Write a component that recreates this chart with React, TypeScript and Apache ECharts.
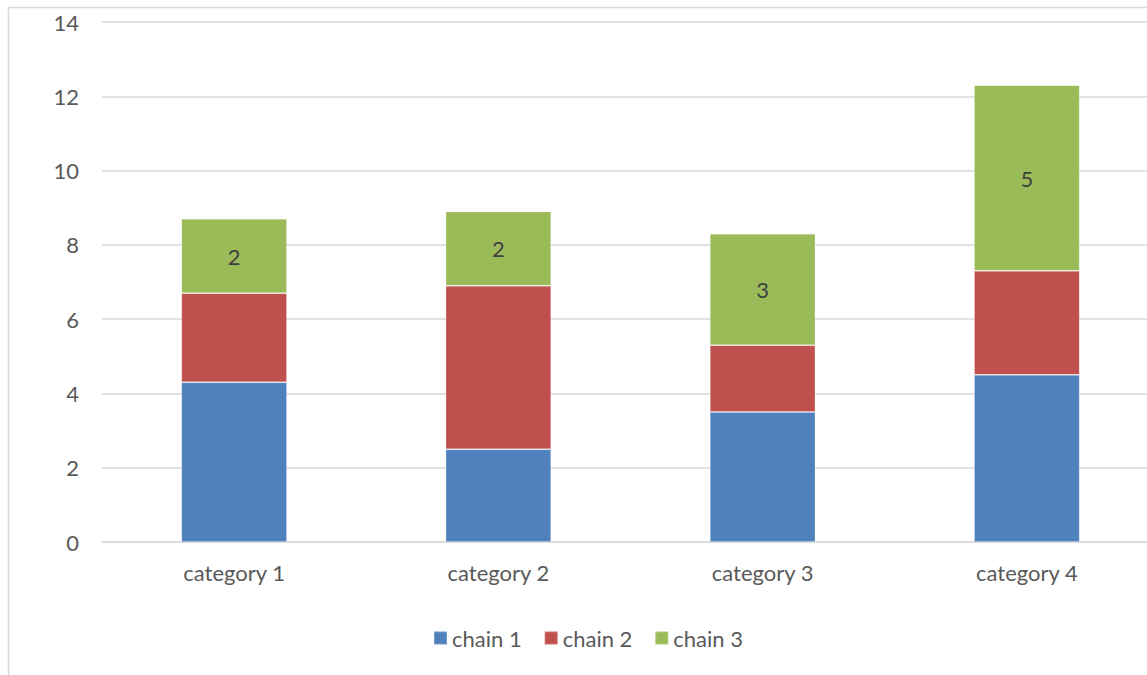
import React, { useEffect, useRef } from "react";
import * as echarts from "echarts";

const categories = ["category 1", "category 2", "category 3", "category 4"];
const chain1 = [4.3, 2.5, 3.5, 4.5];
const chain2 = [2.4, 4.4, 1.8, 2.8];
const chain3 = [2, 2, 3, 5];
const yTicks = { min: 0, max: 14, interval: 2 };

const FONT = "Lato, 'Open Sans', sans-serif";
const FS = 22;

export default function App() {
  const ref = useRef<HTMLDivElement>(null);

  useEffect(() => {
    if (!ref.current) return;
    const chart = echarts.init(ref.current, undefined, { renderer: "svg" });
    const barCommon = {
      type: "bar" as const,
      stack: "total",
      barWidth: "40%",
      itemStyle: { borderColor: "rgba(255,255,255,0.2)", borderWidth: 1 },
    };
    chart.setOption({
      animation: false,
      textStyle: { fontFamily: FONT },
      graphic: [
        {
          type: "rect",
          shape: { x: 8.5, y: 7.5, width: 1300, height: 800 },
          style: { fill: "none", stroke: "#d9d9d9", lineWidth: 1.5 },
          silent: true,
          z: -1,
        },
      ],
      grid: { left: 102, right: 17, top: 22, bottom: 133 },
      legend: {
        bottom: 21,
        left: "center",
        itemWidth: 13,
        itemHeight: 13,
        itemGap: 22,
        icon: "rect",
        textStyle: { fontSize: FS, color: "#595959", fontFamily: FONT },
        data: ["chain 1", "chain 2", "chain 3"],
      },
      xAxis: {
        type: "category",
        data: categories,
        axisLine: { lineStyle: { color: "#d9d9d9", width: 1.5 } },
        axisTick: { show: false },
        axisLabel: { fontSize: FS, color: "#595959", margin: 19, fontFamily: FONT },
      },
      yAxis: {
        type: "value",
        min: yTicks.min,
        max: yTicks.max,
        interval: yTicks.interval,
        axisLine: { show: false },
        axisTick: { show: false },
        splitLine: { lineStyle: { color: "#d9d9d9", width: 1.5 } },
        axisLabel: { fontSize: FS, color: "#595959", margin: 23, fontFamily: FONT },
      },
      series: [
        { ...barCommon, name: "chain 1", data: chain1, itemStyle: { ...barCommon.itemStyle, color: "#4f81bd" } },
        { ...barCommon, name: "chain 2", data: chain2, itemStyle: { ...barCommon.itemStyle, color: "#c0504d" } },
        {
          ...barCommon,
          name: "chain 3",
          data: chain3,
          itemStyle: { ...barCommon.itemStyle, color: "#9bbb59" },
          label: { show: true, position: "inside", fontSize: FS, color: "#404040", fontFamily: FONT },
        },
      ],
    });
    return () => chart.dispose();
  }, []);

  return (
    <div style={{ position: "absolute", left: 0, top: 0, width: 1147, height: 675, overflow: "hidden", background: "#fff" }}>
      <div ref={ref} style={{ width: 1176, height: 675 }} />
    </div>
  );
}
